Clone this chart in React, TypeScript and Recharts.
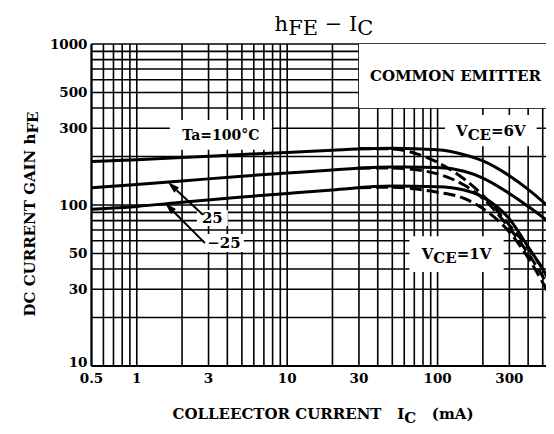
import {
  LineChart,
  Line,
  XAxis,
  YAxis,
  CartesianGrid,
  ReferenceArea,
  ReferenceLine,
} from "recharts";

// collector current (mA)
const currentVce6 = [0.5, 1, 2, 5, 10, 20, 50, 100, 150, 200, 300, 400, 500, 600, 700];
const currentVce1 = [30, 50, 70, 100, 150, 200, 300, 400, 500, 600, 700];

// hFE, VCE = 6V (solid)
const gain100Vce6 = [186, 191, 197, 206, 212, 219, 225, 220, 205, 188, 152, 125, 105, 90, 78];
const gain25Vce6 = [128, 134, 141, 151, 158, 165, 172, 171, 162, 147, 118, 98, 84, 73, 64];
const gainM25Vce6 = [94, 98, 104, 112, 118, 124, 131, 130, 124, 112, 82, 55, 40, 30, 24];

// hFE, VCE = 1V (dashed)
const gain100Vce1 = [224, 223, 210, 184, 145, 115, 75, 54, 40, 29, 22];
const gain25Vce1 = [169, 170, 166, 156, 133, 110, 72, 50, 36, 26, 20];
const gainM25Vce1 = [128, 129, 126, 120, 110, 95, 68, 47, 33, 24, 18];

// log paper grid
const xGrid = [0.5, 0.6, 0.7, 0.8, 0.9, 1, 2, 3, 4, 5, 6, 7, 8, 9, 10, 20, 30, 40, 50, 60, 70, 80, 90, 100, 200, 300, 400, 500, 600, 700, 800, 900, 1000];
const yGrid = [10, 20, 30, 40, 50, 60, 70, 80, 90, 100, 200, 300, 400, 500, 600, 700, 800, 900, 1000];
const xTickLabels = [0.5, 1, 3, 10, 30, 100, 300];
const yTickLabels = [10, 30, 50, 100, 300, 500, 1000];

const pts = (xs: number[], ys: number[]) => xs.map((i, k) => ({ i, h: ys[k] }));

const FONT = "'DejaVu Serif', serif";
const INK = "#000";

const XTick = (p: any) => {
  const v = p.payload.value;
  if (!xTickLabels.includes(v)) return <g />;
  return (
    <text x={p.x} y={p.y + 5} dy="0.75em" textAnchor="middle" fontFamily={FONT} fontWeight="bold" fontSize={13.5} fill={INK}>
      {String(v)}
    </text>
  );
};

const YTick = (p: any) => {
  const v = p.payload.value;
  if (!yTickLabels.includes(v)) return <g />;
  return (
    <text
      x={p.x - 2}
      y={p.y + (v === 10 ? -4 : 0)}
      textAnchor="end"
      dominantBaseline="central"
      fontFamily={FONT}
      fontWeight="bold"
      fontSize={13.5}
      fill={INK}
    >
      {String(v)}
    </text>
  );
};

const boxText =
  (children: any, anchor: "middle" | "start" = "middle", pad = 0, size = 14) =>
  (props: any) => {
    const { x, y, width, height } = props.viewBox;
    const tx = anchor === "middle" ? x + width / 2 : x + pad;
    return (
      <text
        x={tx}
        y={y + height / 2}
        textAnchor={anchor}
        dominantBaseline="central"
        fontFamily={FONT}
        fontWeight="bold"
        fontSize={size}
        fill={INK}
      >
        {children}
      </text>
    );
  };

const Arrow = (props: any) => {
  const { x1, y1, x2, y2 } = props;
  const a = Math.atan2(y2 - y1, x2 - x1);
  const len = 12;
  const half = 3.5;
  const bx = x2 - len * Math.cos(a);
  const by = y2 - len * Math.sin(a);
  const px = -Math.sin(a) * half;
  const py = Math.cos(a) * half;
  return (
    <g>
      <line x1={x1} y1={y1} x2={bx} y2={by} stroke={INK} strokeWidth={2} />
      <polygon points={`${x2},${y2} ${bx + px},${by + py} ${bx - px},${by - py}`} fill={INK} />
    </g>
  );
};

const curve = (data: { i: number; h: number }[], dashed: boolean, key: string) => (
  <Line
    key={key}
    data={data}
    dataKey="h"
    type="monotone"
    stroke={INK}
    strokeWidth={3}
    strokeDasharray={dashed ? "12 5" : undefined}
    dot={false}
    activeDot={false}
    isAnimationActive={false}
  />
);

export default function App() {
  return (
    <div style={{ position: "relative", width: 546, height: 426, overflow: "hidden", background: "#fff" }}>
      <LineChart width={600} height={426} margin={{ top: 36, right: 20, bottom: 38, left: 23.5 }}>
        <CartesianGrid stroke={INK} strokeWidth={1.6} />
        <XAxis
          dataKey="i"
          type="number"
          scale="log"
          domain={[0.5, 1000]}
          allowDataOverflow
          ticks={xGrid}
          interval={0}
          tick={<XTick />}
          tickLine={false}
          tickSize={0}
          axisLine={{ stroke: INK, strokeWidth: 2 }}
          height={30}
        />
        <YAxis
          type="number"
          scale="log"
          domain={[10, 1000]}
          allowDataOverflow
          ticks={yGrid}
          interval={0}
          tick={<YTick />}
          tickLine={false}
          tickSize={0}
          axisLine={{ stroke: INK, strokeWidth: 2 }}
          width={60}
        />

        <ReferenceArea
          x1={30}
          x2={1000}
          y1={400}
          y2={1000}
          fill="#fff"
          fillOpacity={1}
          stroke="none"
          label={boxText("COMMON EMITTER", "start", 11, 15)}
        />
        <ReferenceArea
          x1={1.66}
          x2={7.9}
          y1={220}
          y2={337}
          fill="#fff"
          fillOpacity={1}
          stroke="none"
          label={boxText("Ta=100°C")}
        />
        <ReferenceArea
          x1={112}
          x2={456}
          y1={232}
          y2={362}
          fill="#fff"
          fillOpacity={1}
          stroke="none"
          label={boxText(
            <>
              V<tspan dy={4}>CE</tspan>
              <tspan dy={-4}>=6V</tspan>
            </>,
            "middle",
            0,
            15
          )}
        />
        <ReferenceArea
          x1={65}
          x2={275}
          y1={38.4}
          y2={64}
          fill="#fff"
          fillOpacity={1}
          stroke="none"
          label={boxText(
            <>
              V<tspan dy={4}>CE</tspan>
              <tspan dy={-4}>=1V</tspan>
            </>,
            "middle",
            0,
            15
          )}
        />
        <ReferenceArea
          x1={2.51}
          x2={4.03}
          y1={74}
          y2={93}
          fill="#fff"
          fillOpacity={1}
          stroke="none"
          label={boxText("25", "middle", 0, 15)}
        />
        <ReferenceArea
          x1={2.8}
          x2={5.15}
          y1={51}
          y2={66}
          fill="#fff"
          fillOpacity={1}
          stroke="none"
          label={boxText("−25", "middle", 0, 15)}
        />

        <ReferenceLine segment={[{ x: 2.75, y: 87 }, { x: 1.61, y: 139 }]} shape={Arrow} />
        <ReferenceLine segment={[{ x: 2.84, y: 58 }, { x: 1.54, y: 103 }]} shape={Arrow} />

        {curve(pts(currentVce6, gain100Vce6), false, "s100")}
        {curve(pts(currentVce6, gain25Vce6), false, "s25")}
        {curve(pts(currentVce6, gainM25Vce6), false, "sm25")}
        {curve(pts(currentVce1, gain100Vce1), true, "d100")}
        {curve(pts(currentVce1, gain25Vce1), true, "d25")}
        {curve(pts(currentVce1, gainM25Vce1), true, "dm25")}
      </LineChart>

      <svg
        width={546}
        height={426}
        style={{ position: "absolute", left: 0, top: 0, pointerEvents: "none" }}
        fontFamily={FONT}
        fill={INK}
      >
        <text x={316} y={23} textAnchor="middle" fontSize={21}>
          h<tspan dy={4}>FE</tspan>
          <tspan dy={-4}>{"  −  I"}</tspan>
          <tspan dy={4}>C</tspan>
        </text>
        <text
          transform="translate(22 206) rotate(-90)"
          textAnchor="middle"
          dominantBaseline="central"
          fontSize={15}
          fontWeight="bold"
        >
          DC CURRENT GAIN h<tspan dy={3}>FE</tspan>
        </text>
        <text x={315} y={411} textAnchor="middle" fontSize={15} fontWeight="bold" xmlSpace="preserve">
          {"COLLEECTOR CURRENT   I"}
          <tspan dy={4}>C</tspan>
          <tspan dy={-4}>{"   (mA)"}</tspan>
        </text>
      </svg>
    </div>
  );
}
